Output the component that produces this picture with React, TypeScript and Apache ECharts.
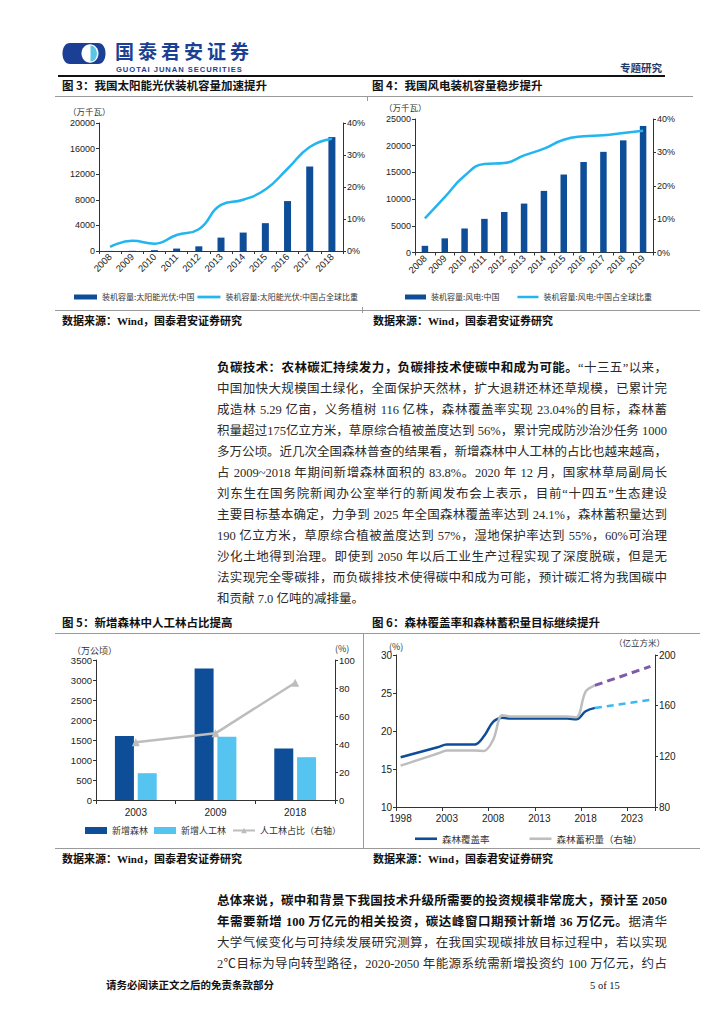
import React, { useEffect, useRef } from "react";
import * as echarts from "echarts";

// ---------- Chart 3: solar ----------
const solarYears = ["2008", "2009", "2010", "2011", "2012", "2013", "2014", "2015", "2016", "2017", "2018"];
const solarCapacity = [14, 30, 130, 380, 730, 2090, 2880, 4350, 7800, 13200, 17800];
const solarShare = [1.3, 3.2, 2.3, 5.0, 6.8, 14.4, 16.0, 19.2, 25.7, 32.5, 35.1];

// ---------- Chart 4: wind ----------
const windYears = ["2008", "2009", "2010", "2011", "2012", "2013", "2014", "2015", "2016", "2017", "2018", "2019"];
const windCapacity = [1250, 2650, 4500, 6300, 7580, 9160, 11540, 14600, 16950, 18850, 21000, 23700];
const windShare = [10.2, 16.6, 23.0, 26.5, 26.8, 29.1, 31.1, 33.8, 34.8, 35.1, 35.8, 36.5];

// ---------- Chart 5: new forest ----------
const forestYears = ["2003", "2009", "2018"];
const newForest = [1600, 3290, 1290];
const newPlanted = [670, 1580, 1070];
const plantedShare = [41.2, 47.6, 83.8];

// ---------- Chart 6: coverage & stock ----------
const years6 = [
  "1998", "1999", "2000", "2001", "2002", "2003", "2004", "2005", "2006", "2007", "2008", "2009", "2010", "2011",
  "2012", "2013", "2014", "2015", "2016", "2017", "2018", "2019", "2020", "2021", "2022", "2023", "2024", "2025",
];
const coverage = [16.55, 16.88, 17.21, 17.54, 17.87, 18.21, 18.21, 18.21, 18.21, 19.3, 21.2, 21.75, 21.63, 21.63, 21.63, 21.63, 21.63, 21.63, 21.63, 21.55, 22.6, 23.04];
const stock = [112.67, 115.0, 117.4, 119.8, 122.2, 124.56, 124.56, 124.56, 124.56, 124.3, 133.0, 152.5, 151.37, 151.37, 151.37, 151.37, 151.37, 151.37, 151.37, 150.9, 171.0, 176.0];
const targetYears = ["2019", "2025"];
const coverageTarget = [23.04, 24.1];
const stockTarget = [176.0, 191.0];

const S3A = "装机容量:太阳能光伏:中国";
const S3B = "装机容量:太阳能光伏:中国占全球比重";
const S4A = "装机容量:风电:中国";
const S4B = "装机容量:风电:中国占全球比重";
const S5A = "新增森林";
const S5B = "新增人工林";
const S5C = "人工林占比（右轴）";
const S6A = "森林覆盖率";
const S6B = "森林蓄积量（右轴）";

const DARK = "#0E4D98";
const SKY = "#22B5F0";
const LIGHTBAR = "#55C4F1";
const GRAY = "#BDBDBD";
const PURPLE = "#7E5AA8";
const NAVY = "#1B3F94";

const SANS = '"Liberation Sans", Arial, "Noto Sans CJK SC", sans-serif';
const CJK = '"Noto Sans CJK SC", "Liberation Sans", sans-serif';
const SERIF = '"Liberation Serif", "Noto Sans CJK SC", serif';
const LINE_ICON = "path://M0 0H22V2.6H0Z";

echarts.graphic.registerShape(
  "gtjaOuter",
  echarts.graphic.extendPath("M70 43 L98 43 C103 43 105.5 48 105.5 53.5 C105.5 59 103 64 98 64 L70 64 C65 64 62.5 59 62.5 53.5 C62.5 48 65 43 70 43 Z", {})
);
echarts.graphic.registerShape(
  "gtjaHalf",
  echarts.graphic.extendPath("M90.5 45.5 A6.5 8 0 0 1 90.5 61.5 Z", {})
);

const axisLine = { show: true, lineStyle: { color: "#333", width: 1 } };
const tick = { show: true, length: 3, lineStyle: { color: "#333" } };

function yAx(grid: number, min: number, max: number, interval: number, pos: "left" | "right", fs: number, suffix?: string) {
  return {
    type: "value",
    gridIndex: grid,
    position: pos,
    min,
    max,
    interval,
    axisLine,
    axisTick: tick,
    splitLine: { show: false },
    axisLabel: {
      fontSize: fs,
      color: "#222",
      fontFamily: SANS,
      margin: 4,
      formatter: (v: number) => String(v) + (suffix || ""),
    },
  };
}

function unit(text: string, x: number, y: number, fs: number) {
  return {
    type: "text",
    x,
    y,
    style: { text, fill: "#333", fontSize: fs, fontFamily: CJK, verticalAlign: "middle", align: "left" },
  };
}

const option: any = {
  animation: false,
  grid: [
    { left: 99, top: 123, width: 244, height: 128 },
    { left: 415, top: 119, width: 238, height: 133.5 },
    { left: 96, top: 660, width: 239, height: 140 },
    { left: 396, top: 655, width: 259, height: 152 },
  ],
  xAxis: [
    {
      type: "category", gridIndex: 0, data: solarYears, axisLine, axisTick: { show: true, length: 3, lineStyle: { color: "#333" } },
      axisLabel: { rotate: 45, interval: 0, fontSize: 9.5, color: "#222", fontFamily: SANS, margin: 4 },
    },
    {
      type: "category", gridIndex: 1, data: windYears, axisLine, axisTick: { show: true, length: 3, lineStyle: { color: "#333" } },
      axisLabel: { rotate: 45, interval: 0, fontSize: 9.5, color: "#222", fontFamily: SANS, margin: 4 },
    },
    {
      type: "category", gridIndex: 2, data: forestYears, axisLine, axisTick: { show: true, length: 4, lineStyle: { color: "#333" } },
      axisLabel: { fontSize: 10, color: "#222", fontFamily: SANS, margin: 7 },
    },
    {
      type: "category", gridIndex: 3, data: years6, axisLine, axisTick: { show: true, length: 4, interval: 4, lineStyle: { color: "#333" } },
      axisLabel: { interval: 4, fontSize: 10, color: "#222", fontFamily: SANS, margin: 6 },
    },
  ],
  yAxis: [
    yAx(0, 0, 20000, 4000, "left", 9),
    yAx(0, 0, 40, 10, "right", 9, "%"),
    yAx(1, 0, 25000, 5000, "left", 9),
    yAx(1, 0, 40, 10, "right", 9, "%"),
    yAx(2, 0, 3500, 500, "left", 9.5),
    yAx(2, 0, 100, 20, "right", 9.5),
    yAx(3, 10, 30, 5, "left", 10),
    yAx(3, 80, 200, 40, "right", 10),
  ],
  legend: [
    {
      left: 69, top: 288, itemWidth: 23, itemHeight: 5, itemGap: 3, selectedMode: false,
      textStyle: { fontSize: 8, color: "#333", fontFamily: CJK },
      data: [{ name: S3A, icon: "rect" }, { name: S3B, icon: LINE_ICON }],
    },
    {
      left: 400, top: 288, itemWidth: 21, itemHeight: 5, itemGap: 18, selectedMode: false,
      textStyle: { fontSize: 8, color: "#333", fontFamily: CJK },
      data: [{ name: S4A, icon: "rect" }, { name: S4B, icon: LINE_ICON }],
    },
    {
      left: 80, top: 821, itemWidth: 22, itemHeight: 7, itemGap: 6, selectedMode: false,
      textStyle: { fontSize: 9, color: "#333", fontFamily: CJK },
      data: [{ name: S5A, icon: "rect" }, { name: S5B, icon: "rect" }, { name: S5C }],
    },
    {
      left: 410, top: 829, itemWidth: 22, itemHeight: 7, itemGap: 40, selectedMode: false,
      textStyle: { fontSize: 9.5, color: "#333", fontFamily: CJK },
      data: [{ name: S6A, icon: LINE_ICON }, { name: S6B, icon: LINE_ICON }],
    },
  ],
  graphic: [
    { type: "gtjaOuter", x: 0, y: 0, style: { fill: NAVY } },
    { type: "ellipse", shape: { cx: 90, cy: 53.5, rx: 8.5, ry: 9.2 }, style: { fill: "#fff" } },
    { type: "gtjaHalf", x: 0, y: 0, style: { fill: "#5BC5E6" } },
    unit("（万千瓦）", 68, 111, 8.5),
    unit("（万千瓦）", 384, 107, 8.5),
    unit("（万公顷）", 72, 650, 9),
    unit("(%)", 335, 648, 9),
    unit("(%)", 389, 646, 9),
    unit("（亿立方米）", 614, 642, 8.5),
  ],
  series: [
    { type: "bar", name: S3A, xAxisIndex: 0, yAxisIndex: 0, data: solarCapacity, barWidth: 7, itemStyle: { color: DARK } },
    {
      type: "line", name: S3B, xAxisIndex: 0, yAxisIndex: 1, data: solarShare, smooth: true, symbol: "none",
      lineStyle: { color: SKY, width: 2.5 }, itemStyle: { color: SKY },
    },
    { type: "bar", name: S4A, xAxisIndex: 1, yAxisIndex: 2, data: windCapacity, barWidth: 6.5, itemStyle: { color: DARK } },
    {
      type: "line", name: S4B, xAxisIndex: 1, yAxisIndex: 3, data: windShare, smooth: true, symbol: "none",
      lineStyle: { color: SKY, width: 2.5 }, itemStyle: { color: SKY },
    },
    { type: "bar", name: S5A, xAxisIndex: 2, yAxisIndex: 4, data: newForest, barWidth: 19, barGap: "20%", itemStyle: { color: DARK } },
    { type: "bar", name: S5B, xAxisIndex: 2, yAxisIndex: 4, data: newPlanted, barWidth: 19, barGap: "20%", itemStyle: { color: LIGHTBAR } },
    {
      type: "line", name: S5C, xAxisIndex: 2, yAxisIndex: 5, data: plantedShare, symbol: "triangle", symbolSize: 8,
      lineStyle: { color: GRAY, width: 2.5 }, itemStyle: { color: GRAY },
    },
    {
      type: "line", name: S6A, xAxisIndex: 3, yAxisIndex: 6, data: coverage, smooth: 0.35, symbol: "none",
      lineStyle: { color: DARK, width: 2.5 }, itemStyle: { color: DARK },
    },
    {
      type: "line", name: S6B, xAxisIndex: 3, yAxisIndex: 7, data: stock, smooth: 0.35, symbol: "none",
      lineStyle: { color: GRAY, width: 2.5 }, itemStyle: { color: GRAY },
    },
    {
      type: "line", name: "覆盖率目标", xAxisIndex: 3, yAxisIndex: 6, data: targetYears.map((y, i) => [y, coverageTarget[i]]), symbol: "none",
      lineStyle: { color: "#3DB8F2", width: 2.5, type: [7, 5] },
    },
    {
      type: "line", name: "蓄积量目标", xAxisIndex: 3, yAxisIndex: 7, data: targetYears.map((y, i) => [y, stockTarget[i]]), symbol: "none",
      lineStyle: { color: PURPLE, width: 3, type: [8, 5] },
    },
  ],
};

type Seg = [string, boolean];
const para1: Seg[][] = [
  [["负碳技术：农林碳汇持续发力，负碳排技术使碳中和成为可能。", true], ["“十三五”以来，", false]],
  [["中国加快大规模国土绿化，全面保护天然林，扩大退耕还林还草规模，已累计完", false]],
  [["成造林 5.29 亿亩，义务植树 116 亿株，森林覆盖率实现 23.04%的目标，森林蓄", false]],
  [["积量超过175亿立方米，草原综合植被盖度达到 56%，累计完成防沙治沙任务 1000", false]],
  [["多万公顷。近几次全国森林普查的结果看，新增森林中人工林的占比也越来越高，", false]],
  [["占 2009~2018 年期间新增森林面积的 83.8%。2020 年 12 月，国家林草局副局长", false]],
  [["刘东生在国务院新闻办公室举行的新闻发布会上表示，目前“十四五”生态建设", false]],
  [["主要目标基本确定，力争到 2025 年全国森林覆盖率达到 24.1%，森林蓄积量达到", false]],
  [["190 亿立方米，草原综合植被盖度达到 57%，湿地保护率达到 55%，60%可治理", false]],
  [["沙化土地得到治理。即使到 2050 年以后工业生产过程实现了深度脱碳，但是无", false]],
  [["法实现完全零碳排，而负碳排技术使得碳中和成为可能，预计碳汇将为我国碳中", false]],
  [["和贡献 7.0 亿吨的减排量。", false]],
];
const para2: Seg[][] = [
  [["总体来说，碳中和背景下我国技术升级所需要的投资规模非常庞大，预计至 2050", true]],
  [["年需要新增 100 万亿元的相关投资，碳达峰窗口期预计新增 36 万亿元。", true], ["据清华", false]],
  [["大学气候变化与可持续发展研究测算，在我国实现碳排放目标过程中，若以实现", false]],
  [["2℃目标为导向转型路径，2020-2050 年能源系统需新增投资约 100 万亿元，约占", false]],
];

function Lines({ lines, top, lastLeft }: { lines: Seg[][]; top: number; lastLeft: boolean }) {
  return (
    <>
      {lines.map((segs, i) => {
        const justify = !(lastLeft && i === lines.length - 1);
        return (
          <div
            key={i}
            style={{
              position: "absolute",
              left: 217,
              top: top + i * 21 - 10.5,
              width: 450,
              height: 21,
              lineHeight: "21px",
              fontSize: 12.5,
              fontFamily: SERIF,
              color: "#2a2a2a",
              whiteSpace: "nowrap",
              textAlign: justify ? "justify" : "left",
              textAlignLast: justify ? "justify" : "left",
            } as any}
          >
            {segs.map(([t, b], j) => (
              <span key={j} style={{ fontWeight: b ? 700 : 400, color: b ? "#111" : "#2a2a2a" }}>
                {t}
              </span>
            ))}
          </div>
        );
      })}
    </>
  );
}

function Txt({ x, y, size, bold, color, family, children, spacing, lhf }: any) {
  const lh = Math.round(size * (lhf || 1.4));
  return (
    <div
      style={{
        position: "absolute",
        left: x,
        top: y - lh / 2,
        height: lh,
        lineHeight: lh + "px",
        fontSize: size,
        fontWeight: bold ? 700 : 400,
        color: color || "#111",
        fontFamily: family || SERIF,
        whiteSpace: "nowrap",
        letterSpacing: spacing || 0,
      }}
    >
      {children}
    </div>
  );
}

function HLine({ x1, x2, y, h, color }: any) {
  return <div style={{ position: "absolute", left: x1, top: y - h / 2, width: x2 - x1, height: h, background: color }} />;
}
function VLine({ x, y1, y2, color }: any) {
  return <div style={{ position: "absolute", left: x, top: y1, width: 1, height: y2 - y1, background: color }} />;
}

export default function App() {
  const ref = useRef<HTMLDivElement>(null);
  useEffect(() => {
    const chart = echarts.init(ref.current!, null, { renderer: "svg" });
    chart.setOption(option);
    return () => chart.dispose();
  }, []);
  return (
    <div style={{ position: "absolute", left: 0, top: 0, width: 724, height: 1024, background: "#fff", overflow: "hidden" }}>
      <div ref={ref} style={{ position: "absolute", left: 0, top: 0, width: 724, height: 1024 }} />
      {/* header */}
      <Txt x={115} y={50.5} size={19} bold color={NAVY} family={CJK} spacing={4} lhf={1}>国泰君安证券</Txt>
      <Txt x={116} y={69.5} size={7.6} bold color={NAVY} family={SANS} spacing={0.95} lhf={1.05}>GUOTAI JUNAN SECURITIES</Txt>
      <Txt x={620} y={67} size={10.5} bold color="#1f3a6e" family={CJK}>专题研究</Txt>
      <HLine x1={58} x2={665} y={75.5} h={2} color="#111" />
      {/* row 1 titles */}
      <Txt x={62} y={85} size={11.5} bold family={CJK}>图 3：我国太阳能光伏装机容量加速提升</Txt>
      <Txt x={372} y={85} size={11.5} bold family={CJK}>图 4：我国风电装机容量稳步提升</Txt>
      <HLine x1={55} x2={693} y={96.5} h={1} color="#9a9a9a" />
      <VLine x={367} y1={96} y2={101} color="#9a9a9a" />
      <HLine x1={55} x2={700} y={310.5} h={1} color="#9a9a9a" />
      <VLine x={362} y1={307} y2={313} color="#9a9a9a" />
      <Txt x={62} y={321} size={11} bold>数据来源：Wind，国泰君安证券研究</Txt>
      <Txt x={373} y={321} size={11} bold>数据来源：Wind，国泰君安证券研究</Txt>
      {/* paragraph 1 */}
      <Lines lines={para1} top={368} lastLeft />
      {/* row 2 titles */}
      <Txt x={62} y={621.5} size={11.5} bold family={CJK}>图 5：新增森林中人工林占比提高</Txt>
      <Txt x={372} y={621.5} size={11.5} bold family={CJK}>图 6：森林覆盖率和森林蓄积量目标继续提升</Txt>
      <HLine x1={55} x2={700} y={633.5} h={1} color="#9a9a9a" />
      <VLine x={363} y1={633} y2={848} color="#9a9a9a" />
      <HLine x1={55} x2={700} y={848.5} h={1} color="#9a9a9a" />
      <Txt x={62} y={859} size={11} bold>数据来源：Wind，国泰君安证券研究</Txt>
      <Txt x={373} y={859} size={11} bold>数据来源：Wind，国泰君安证券研究</Txt>
      {/* paragraph 2 */}
      <Lines lines={para2} top={901} lastLeft={false} />
      {/* footer */}
      <Txt x={106} y={985} size={10.5} bold>请务必阅读正文之后的免责条款部分</Txt>
      <Txt x={590} y={985} size={10.5}>5 of 15</Txt>
    </div>
  );
}
